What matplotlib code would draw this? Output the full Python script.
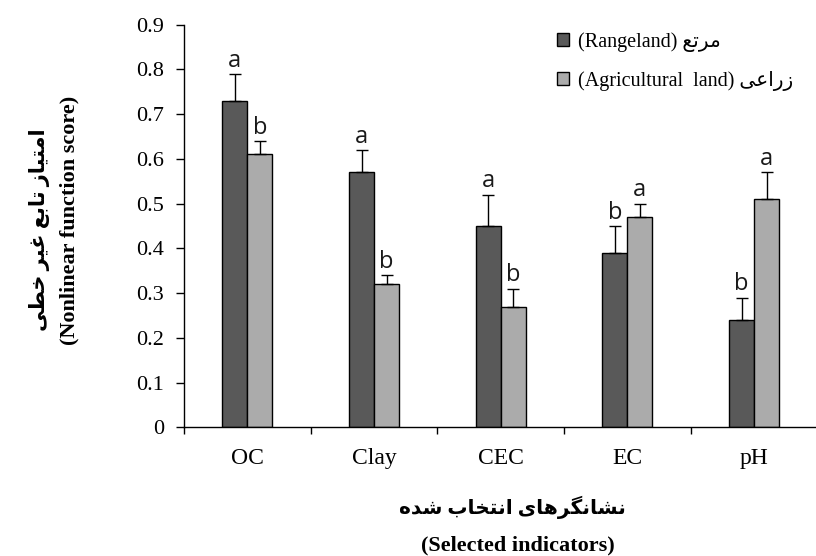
import matplotlib
matplotlib.use("Agg")
import matplotlib.pyplot as plt
import numpy as np

# Indicator scores for the two land uses
categories = ["OC", "Clay", "CEC", "EC", "pH"]
rangeland = [0.73, 0.57, 0.45, 0.39, 0.24]
rangeland_err = [0.06, 0.05, 0.07, 0.06, 0.05]
agricultural = [0.61, 0.32, 0.27, 0.47, 0.51]
agricultural_err = [0.03, 0.02, 0.04, 0.03, 0.06]
rangeland_letters = ["a", "a", "a", "b", "b"]
agricultural_letters = ["b", "b", "b", "a", "a"]
yticks = [0, 0.1, 0.2, 0.3, 0.4, 0.5, 0.6, 0.7, 0.8, 0.9]

# Persian labels written in shaped (presentation) forms, visual order
lbl_range_fa = "\uFECA\uFE97\uFEAE\uFEE3"                      # مرتع
lbl_agri_fa = "\uFBFD\uFECB\uFE8D\uFEAD\uFEAF"                  # زراعی
ylab_fa = ("\uFBFD\uFEC4\uFEA7 \uFEAE\uFBFF\uFECF "
           "\uFECA\uFE91\uFE8E\uFE97 "
           "\uFEAF\uFE8E\uFBFF\uFE98\uFEE3\uFE8D")               # امتیاز تابع غیر خطی
xlab_fa = ("\uFEE9\uFEAA\uFEB7 "
           "\uFE8F\uFE8E\uFEA8\uFE98\uFEE7\uFE8D "
           "\uFBFC\uFE8E\uFEEB\uFEAE\uFB95\uFEE7\uFE8E\uFEB8\uFEE7")  # نشانگرهای انتخاب شده

SERIF = ["Liberation Serif", "DejaVu Sans"]
DARK = "#595959"
LIGHT = "#ababab"

W, H = 816, 556
fig = plt.figure(figsize=(W / 100, H / 100), dpi=100)
x0, x1 = 184, 817.5
y0, y1 = 427.3, 24.7
ax = fig.add_axes([x0 / W, 1 - y0 / H, (x1 - x0) / W, (y0 - y1) / H])

x = np.arange(len(categories))
bw = 0.197
b1 = ax.bar(x - bw / 2, rangeland, bw, color=DARK, edgecolor="black",
            linewidth=1.0, label="(Rangeland) " + lbl_range_fa, zorder=2)
b2 = ax.bar(x + bw / 2, agricultural, bw, color=LIGHT, edgecolor="black",
            linewidth=1.0, label="(Agricultural  land) " + lbl_agri_fa, zorder=2)

ax.errorbar(x - bw / 2, rangeland, yerr=[np.zeros(5), rangeland_err],
            fmt="none", ecolor="black", elinewidth=1.0, capsize=4.2,
            capthick=1.0, zorder=3)
ax.errorbar(x + bw / 2, agricultural, yerr=[np.zeros(5), agricultural_err],
            fmt="none", ecolor="black", elinewidth=1.0, capsize=4.2,
            capthick=1.0, zorder=3)

for xi, v, e, t in zip(x - bw / 2, rangeland, rangeland_err, rangeland_letters):
    ax.annotate(t, (xi, v + e), xytext=(0, 1), textcoords="offset points",
                ha="center", va="bottom", fontsize=17, family="Open Sans",
                color="#1a1a1a")
for xi, v, e, t in zip(x + bw / 2, agricultural, agricultural_err, agricultural_letters):
    ax.annotate(t, (xi, v + e), xytext=(0, 1), textcoords="offset points",
                ha="center", va="bottom", fontsize=17, family="Open Sans",
                color="#1a1a1a")

ax.set_xlim(-0.5, 4.5)
ax.set_ylim(0, 0.9)
ax.set_yticks(yticks)
ax.set_yticklabels([f"{t:g}" for t in yticks], family=SERIF, fontsize=16)
ax.set_xticks(x)
ax.set_xticklabels(categories, family=SERIF, fontsize=17)
ax.set_xticks(np.arange(-0.5, 5.0, 1.0), minor=True)
ax.tick_params(axis="x", which="major", length=0, pad=15)
ax.tick_params(axis="x", which="minor", length=5, width=1.0, direction="out")
ax.tick_params(axis="y", length=5.5, width=1.0, direction="out", pad=9)
for s in ("top", "right"):
    ax.spines[s].set_visible(False)
for s in ("left", "bottom"):
    ax.spines[s].set_linewidth(1.0)

leg = ax.legend(handles=[b1, b2], loc="upper left",
                bbox_to_anchor=(549 / W, 1 - 24 / H), bbox_transform=fig.transFigure,
                frameon=False, prop={"family": SERIF, "size": 14.5},
                handlelength=0.6, handleheight=0.6, handletextpad=0.45,
                labelspacing=0.95, borderaxespad=0)

# Axis titles (Persian line above the English one)
fig.text(40 / W, 1 - 230 / H, ylab_fa, rotation=90, ha="center", va="center",
         family=SERIF, fontsize=15, fontweight="bold")
fig.text(69 / W, 1 - 220 / H, "(Nonlinear function score)", rotation=90,
         ha="center", va="center", family=SERIF, fontsize=16, fontweight="bold")
fig.text(512 / W, 1 - 507 / H, xlab_fa, ha="center", va="center",
         family=SERIF, fontsize=14.5, fontweight="bold")
fig.text(518 / W, 1 - 545 / H, "(Selected indicators)", ha="center", va="center",
         family=SERIF, fontsize=16, fontweight="bold")

fig.savefig("out.png", dpi=100)
